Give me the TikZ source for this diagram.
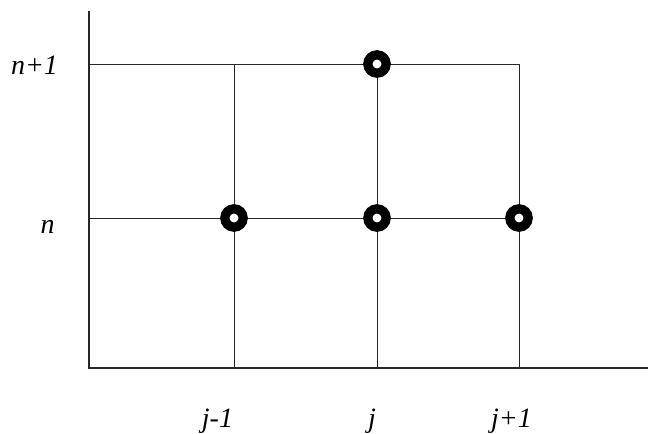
\documentclass[tikz,border=0pt]{standalone}
\usepackage{fontspec}
\setmainfont{Liberation Serif}
\begin{document}
\begin{tikzpicture}[x=1pt,y=-1pt,every node/.style={font=\fontsize{28}{30}\selectfont\itshape}]
\tikzset{
  axisline/.style={line width=2.3pt,black!85},
  gridline/.style={line width=1pt,black!85},
  gridpt/.style={circle,draw=black,line width=9.3pt,fill=white,minimum size=18.3pt,inner sep=0pt},
  lab/.style={anchor=base,inner sep=0pt}
}
\useasboundingbox (0,0) rectangle (649,434);
% axes
\coordinate (o) at (89,368);
\coordinate (ytop) at (89,11);
\coordinate (xend) at (648,368);
% grid corners
\coordinate (a1) at (89,64);
\coordinate (a0) at (89,218);
\coordinate (b1) at (234,64);
\coordinate (b) at (234,368);
\coordinate (c) at (377,368);
\coordinate (d1) at (519,64);
\coordinate (d) at (519,368);
\coordinate (d0) at (519,218);
\coordinate (c1) at (377,64);
% grid lines
\draw[gridline] (a1) -- (d1) -- (d);
\draw[gridline] (a0) -- (d0);
\draw[gridline] (b1) -- (b);
\draw[gridline] (c1) -- (c);
\draw[axisline] (ytop) -- (o) -- (xend);
% stencil points
\node[gridpt] (pw) at (234,218) {};
\node[gridpt] (pc) at (377,218) {};
\node[gridpt] (pe) at (519,218) {};
\node[gridpt] (pn) at (c1) {};
% labels
\node[lab] (ln1) at (34.5,74) {n+1};
\node[lab] (ln) at (47.5,233) {n};
\node[lab] (lj0) at (217.5,427) {j-1};
\node[lab] (lj) at (372,427) {j};
\node[lab] (lj1) at (511.5,427) {j+1};
\end{tikzpicture}
\end{document}
